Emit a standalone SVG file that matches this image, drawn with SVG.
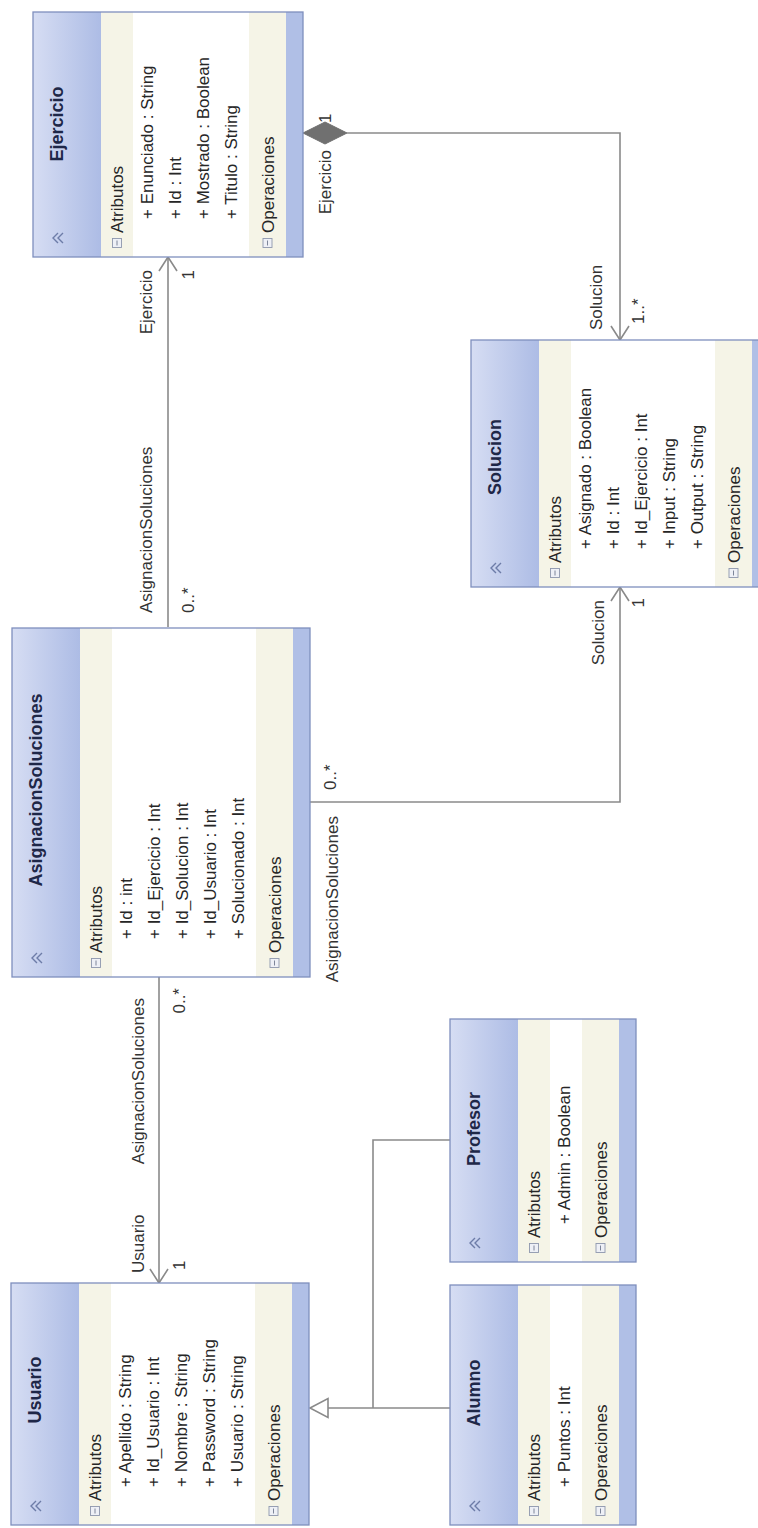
<svg xmlns="http://www.w3.org/2000/svg" width="758" height="1528" viewBox="0 0 758 1528">
  <style>
    .frame { fill: none; stroke: #7f8fbd; stroke-width: 1.3; }
    .hdr { fill: url(#hdrGrad); }
    .band { fill: #f5f4e7; }
    .body { fill: #ffffff; }
    .foot { fill: #b0bfe6; }
    .chev { fill: none; stroke: #6d7ca8; stroke-width: 1.4; }
    .ico { fill: #eef0f6; stroke: #8e97ad; stroke-width: 0.9; }
    .icoLine { stroke: #6f788f; stroke-width: 0.9; }
    .title { font-family: "Liberation Sans", Arial, sans-serif; font-size: 18px; font-weight: bold; fill: #1e2748; }
    .txt { font-family: "Liberation Sans", Arial, sans-serif; font-size: 17px; fill: #262626; }
    .lbl { font-family: "Liberation Sans", Arial, sans-serif; font-size: 17px; fill: #333333; }
    .conn { fill: none; stroke: #8a8a8a; stroke-width: 1.6; }
  </style>
  <defs>
    <linearGradient id="hdrGrad" x1="0" y1="0" x2="0" y2="1">
      <stop offset="0" stop-color="#d6ddf3"/>
      <stop offset="1" stop-color="#adbce5"/>
    </linearGradient>
    <marker id="openArrow" markerUnits="userSpaceOnUse" orient="auto" refX="0" refY="0" markerWidth="30" markerHeight="30" viewBox="-20 -15 30 30" overflow="visible">
      <path d="M-14,-9 L0,0 L-14,9" fill="none" stroke="#8a8a8a" stroke-width="1.6"/>
    </marker>
    <!-- reusable compartment icon (collapse box) -->
    <g id="collapseIcon">
      <rect class="ico" x="-4.5" y="-4.5" width="9" height="9"/>
      <line class="icoLine" x1="-2.5" y1="0" x2="2.5" y2="0"/>
    </g>
    <!-- double chevron in the header -->
    <g id="chevron">
      <polyline class="chev" points="-5,1 0,-4 5,1"/>
      <polyline class="chev" points="-5,6 0,1 5,6"/>
    </g>
  </defs>

  <rect x="0" y="0" width="758" height="1528" fill="#ffffff"/>

  <!-- The whole class diagram is laid out horizontally and turned a quarter turn counter-clockwise -->
  <g transform="translate(0,1528) rotate(-90)">

    <!-- Connectors -->
    <g id="connectors">
      <!-- AsignacionSoluciones -> Usuario -->
      <path class="conn" d="M551,159 L245,159" marker-end="url(#openArrow)"/>
      <!-- AsignacionSoluciones -> Ejercicio -->
      <path class="conn" d="M901,168 L1271,168" marker-end="url(#openArrow)"/>
      <!-- AsignacionSoluciones -> Solucion -->
      <path class="conn" d="M726,310 L726,620 L941,620" marker-end="url(#openArrow)"/>
      <!-- Ejercicio (composition) -> Solucion -->
      <path class="conn" d="M1395,347 L1395,620 L1188,620" marker-end="url(#openArrow)"/>
      <path d="M1395,303 L1406,325 L1395,347 L1384,325 Z" fill="#707070" stroke="#707070" stroke-width="1"/>
      <!-- Alumno / Profesor generalize Usuario -->
      <path class="conn" d="M120,450 L120,328"/>
      <path class="conn" d="M388,450 L388,373 L120,373"/>
      <path d="M120,310 L129.5,328 L110.5,328 Z" fill="#ffffff" stroke="#8a8a8a" stroke-width="1.6"/>

      <!-- role names and multiplicities -->
      <text class="lbl" x="255" y="144">Usuario</text>
      <text class="lbl" x="258" y="185">1</text>
      <text class="lbl" x="530" y="144" text-anchor="end">AsignacionSoluciones</text>
      <text class="lbl" x="540" y="185" text-anchor="end">0..*</text>

      <text class="lbl" x="915" y="152">AsignacionSoluciones</text>
      <text class="lbl" x="915" y="194">0..*</text>
      <text class="lbl" x="1258" y="152" text-anchor="end">Ejercicio</text>
      <text class="lbl" x="1258" y="194" text-anchor="end">1</text>

      <text class="lbl" x="712" y="338" text-anchor="end">AsignacionSoluciones</text>
      <text class="lbl" x="738" y="336">0..*</text>
      <text class="lbl" x="928" y="604" text-anchor="end">Solucion</text>
      <text class="lbl" x="930" y="644" text-anchor="end">1</text>

      <text class="lbl" x="1378" y="331" text-anchor="end">Ejercicio</text>
      <text class="lbl" x="1405" y="331">1</text>
      <text class="lbl" x="1198" y="602">Solucion</text>
      <text class="lbl" x="1204" y="644">1..*</text>
    </g>

    <!-- Ejercicio -->
    <g id="ejercicio" transform="translate(1271,33)">
      <rect class="hdr" x="0" y="0" width="245" height="68"/>
      <rect class="band" x="0" y="68" width="245" height="32"/>
      <rect class="body" x="0" y="100" width="245" height="116"/>
      <rect class="band" x="0" y="216" width="245" height="37"/>
      <rect class="foot" x="0" y="253" width="245" height="17"/>
      <rect class="frame" x="0" y="0" width="245" height="270"/>
      <use href="#chevron" x="19" y="24"/>
      <text class="title" x="133" y="30" text-anchor="middle">Ejercicio</text>
      <use href="#collapseIcon" x="14" y="84"/>
      <text class="txt" x="24" y="90">Atributos</text>
      <text class="txt" x="38" y="120">+ Enunciado : String</text>
      <text class="txt" x="38" y="148">+ Id : Int</text>
      <text class="txt" x="38" y="176">+ Mostrado : Boolean</text>
      <text class="txt" x="38" y="204">+ Titulo : String</text>
      <use href="#collapseIcon" x="14" y="234.5"/>
      <text class="txt" x="24" y="240.5">Operaciones</text>
    </g>

    <!-- Solucion -->
    <g id="solucion" transform="translate(941,471)">
      <rect class="hdr" x="0" y="0" width="247" height="68"/>
      <rect class="band" x="0" y="68" width="247" height="32"/>
      <rect class="body" x="0" y="100" width="247" height="144"/>
      <rect class="band" x="0" y="244" width="247" height="37"/>
      <rect class="foot" x="0" y="281" width="247" height="17"/>
      <rect class="frame" x="0" y="0" width="247" height="298"/>
      <use href="#chevron" x="19" y="24"/>
      <text class="title" x="130" y="30" text-anchor="middle">Solucion</text>
      <use href="#collapseIcon" x="14" y="84"/>
      <text class="txt" x="24" y="90">Atributos</text>
      <text class="txt" x="38" y="120">+ Asignado : Boolean</text>
      <text class="txt" x="38" y="148">+ Id : Int</text>
      <text class="txt" x="38" y="176">+ Id_Ejercicio : Int</text>
      <text class="txt" x="38" y="204">+ Input : String</text>
      <text class="txt" x="38" y="232">+ Output : String</text>
      <use href="#collapseIcon" x="14" y="262.5"/>
      <text class="txt" x="24" y="268.5">Operaciones</text>
    </g>

    <!-- AsignacionSoluciones -->
    <g id="asignacionSoluciones" transform="translate(551,12)">
      <rect class="hdr" x="0" y="0" width="349" height="68"/>
      <rect class="band" x="0" y="68" width="349" height="32"/>
      <rect class="body" x="0" y="100" width="349" height="144"/>
      <rect class="band" x="0" y="244" width="349" height="37"/>
      <rect class="foot" x="0" y="281" width="349" height="17"/>
      <rect class="frame" x="0" y="0" width="349" height="298"/>
      <use href="#chevron" x="19" y="24"/>
      <text class="title" x="187" y="30" text-anchor="middle">AsignacionSoluciones</text>
      <use href="#collapseIcon" x="14" y="84"/>
      <text class="txt" x="24" y="90">Atributos</text>
      <text class="txt" x="38" y="120">+ Id : int</text>
      <text class="txt" x="38" y="148">+ Id_Ejercicio : Int</text>
      <text class="txt" x="38" y="176">+ Id_Solucion : Int</text>
      <text class="txt" x="38" y="204">+ Id_Usuario : Int</text>
      <text class="txt" x="38" y="232">+ Solucionado : Int</text>
      <use href="#collapseIcon" x="14" y="262.5"/>
      <text class="txt" x="24" y="268.5">Operaciones</text>
    </g>

    <!-- Usuario -->
    <g id="usuario" transform="translate(3,11)">
      <rect class="hdr" x="0" y="0" width="242" height="68"/>
      <rect class="band" x="0" y="68" width="242" height="32"/>
      <rect class="body" x="0" y="100" width="242" height="144"/>
      <rect class="band" x="0" y="244" width="242" height="37"/>
      <rect class="foot" x="0" y="281" width="242" height="17"/>
      <rect class="frame" x="0" y="0" width="242" height="298"/>
      <use href="#chevron" x="19" y="24"/>
      <text class="title" x="135" y="30" text-anchor="middle">Usuario</text>
      <use href="#collapseIcon" x="14" y="84"/>
      <text class="txt" x="24" y="90">Atributos</text>
      <text class="txt" x="38" y="120">+ Apellido : String</text>
      <text class="txt" x="38" y="148">+ Id_Usuario : Int</text>
      <text class="txt" x="38" y="176">+ Nombre : String</text>
      <text class="txt" x="38" y="204">+ Password : String</text>
      <text class="txt" x="38" y="232">+ Usuario : String</text>
      <use href="#collapseIcon" x="14" y="262.5"/>
      <text class="txt" x="24" y="268.5">Operaciones</text>
    </g>

    <!-- Profesor -->
    <g id="profesor" transform="translate(266,450)">
      <rect class="hdr" x="0" y="0" width="243" height="68"/>
      <rect class="band" x="0" y="68" width="243" height="32"/>
      <rect class="body" x="0" y="100" width="243" height="32"/>
      <rect class="band" x="0" y="132" width="243" height="37"/>
      <rect class="foot" x="0" y="169" width="243" height="17"/>
      <rect class="frame" x="0" y="0" width="243" height="186"/>
      <use href="#chevron" x="19" y="24"/>
      <text class="title" x="133" y="30" text-anchor="middle">Profesor</text>
      <use href="#collapseIcon" x="14" y="84"/>
      <text class="txt" x="24" y="90">Atributos</text>
      <text class="txt" x="38" y="120">+ Admin : Boolean</text>
      <use href="#collapseIcon" x="14" y="150.5"/>
      <text class="txt" x="24" y="156.5">Operaciones</text>
    </g>

    <!-- Alumno -->
    <g id="alumno" transform="translate(3,450)">
      <rect class="hdr" x="0" y="0" width="240" height="68"/>
      <rect class="band" x="0" y="68" width="240" height="32"/>
      <rect class="body" x="0" y="100" width="240" height="32"/>
      <rect class="band" x="0" y="132" width="240" height="37"/>
      <rect class="foot" x="0" y="169" width="240" height="17"/>
      <rect class="frame" x="0" y="0" width="240" height="186"/>
      <use href="#chevron" x="19" y="24"/>
      <text class="title" x="132" y="30" text-anchor="middle">Alumno</text>
      <use href="#collapseIcon" x="14" y="84"/>
      <text class="txt" x="24" y="90">Atributos</text>
      <text class="txt" x="38" y="120">+ Puntos : Int</text>
      <use href="#collapseIcon" x="14" y="150.5"/>
      <text class="txt" x="24" y="156.5">Operaciones</text>
    </g>
  </g>
</svg>
